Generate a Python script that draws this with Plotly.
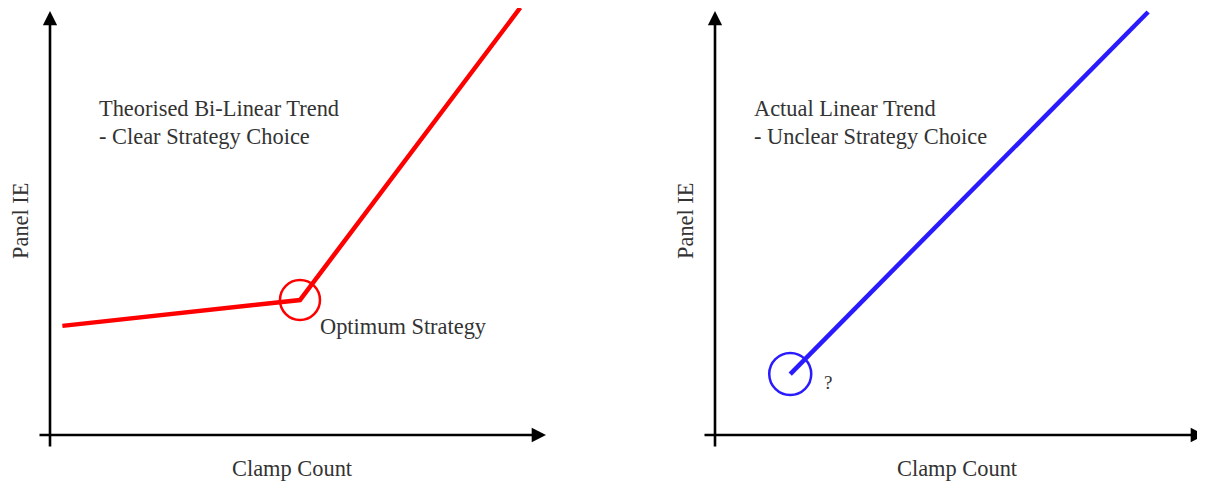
import plotly.graph_objects as go

# ---- data (abstract units: Clamp Count vs Panel IE) ----
bilinear_x = [0.25, 5.05, 9.5]
bilinear_y = [2.58, 3.19, 10.1]
optimum_x = [5.05]
optimum_y = [3.19]

linear_x = [1.52, 8.75]
linear_y = [1.44, 10.0]
start_x = [1.52]
start_y = [1.44]

x_label = "Clamp Count"
y_label = "Panel IE"
left_title = ["Theorised Bi-Linear Trend", "- Clear Strategy Choice"]
right_title = ["Actual Linear Trend", "- Unclear Strategy Choice"]
optimum_label = "Optimum Strategy"
unknown_label = "?"

# ---- layout geometry (screen pixels; page body adds an 8px offset) ----
OFF = 8
W, H = 1205 - OFF, 482 - OFF
PXU_X, PXU_Y = 49.5, 42.3          # pixels per data unit
ORIG_L = (50, 435)                 # screen pixels of axis origin
ORIG_R = (715, 435)
SPLIT = W / 2

def xrange_for(origin, d0, d1):
    o = origin[0] - OFF
    return [(d0 - o) / PXU_X, (d1 - o) / PXU_X]

def yrange_for(origin):
    o = origin[1] - OFF
    return [(o - H) / PXU_Y, o / PXU_Y]

def dx(px, origin):
    return (px - origin[0]) / PXU_X

def dy(py, origin):
    return (origin[1] - py) / PXU_Y

FONT = "Liberation Serif, Times New Roman, serif"
TXT = "#333333"
FS = 22.4

fig = go.Figure()
fig.add_trace(go.Scatter(x=bilinear_x, y=bilinear_y, mode="lines",
                         line=dict(color="#ff0000", width=4.5), xaxis="x", yaxis="y",
                         hoverinfo="skip"))
fig.add_trace(go.Scatter(x=optimum_x, y=optimum_y, mode="markers",
                         marker=dict(symbol="circle-open", size=40, color="#ff0000",
                                     line=dict(width=2.5, color="#ff0000")),
                         xaxis="x", yaxis="y", hoverinfo="skip"))
fig.add_trace(go.Scatter(x=linear_x, y=linear_y, mode="lines",
                         line=dict(color="#2a1bff", width=4.5), xaxis="x2", yaxis="y2",
                         hoverinfo="skip"))
fig.add_trace(go.Scatter(x=start_x, y=start_y, mode="markers",
                         marker=dict(symbol="circle-open", size=42, color="#2a1bff",
                                     line=dict(width=2.5, color="#2a1bff")),
                         xaxis="x2", yaxis="y2", hoverinfo="skip"))

hidden = dict(visible=False, showgrid=False, zeroline=False, fixedrange=True)
fig.update_layout(
    width=W, height=H,
    margin=dict(l=0, r=0, t=0, b=0),
    paper_bgcolor="white", plot_bgcolor="white",
    showlegend=False,
    xaxis=dict(domain=[0, 0.5], range=xrange_for(ORIG_L, 0, SPLIT), **hidden),
    yaxis=dict(domain=[0, 1], range=yrange_for(ORIG_L), **hidden),
    xaxis2=dict(domain=[0.5, 1], range=xrange_for(ORIG_R, SPLIT, W), **hidden),
    yaxis2=dict(domain=[0, 1], range=yrange_for(ORIG_R), anchor="x2", **hidden),
)

annotations = []
for origin, xa, ya, xend in [(ORIG_L, "x", "y", 546), (ORIG_R, "x2", "y2", 1205)]:
    # y axis arrow
    annotations.append(dict(x=0, y=dy(11, origin), ax=0, ay=dy(448, origin),
                            xref=xa, yref=ya, axref=xa, ayref=ya, text="",
                            showarrow=True, arrowhead=2, arrowsize=1.1, arrowwidth=2.6,
                            arrowcolor="black"))
    # x axis arrow
    annotations.append(dict(x=dx(xend, origin), y=0, ax=dx(origin[0] - 12, origin), ay=0,
                            xref=xa, yref=ya, axref=xa, ayref=ya, text="",
                            showarrow=True, arrowhead=2, arrowsize=1.1, arrowwidth=2.6,
                            arrowcolor="black"))
    # axis labels
    annotations.append(dict(x=dx(origin[0] + 242, origin), y=dy(468, origin), xref=xa, yref=ya,
                            text=x_label, showarrow=False, xanchor="center", yanchor="middle",
                            font=dict(family=FONT, size=FS, color=TXT)))
    annotations.append(dict(x=dx(origin[0] - 30, origin), y=dy(221, origin), xref=xa, yref=ya,
                            text=y_label, showarrow=False, textangle=-90,
                            xanchor="center", yanchor="middle",
                            font=dict(family=FONT, size=FS, color=TXT)))

for origin, xa, ya, lines, x0 in [(ORIG_L, "x", "y", left_title, 97),
                                   (ORIG_R, "x2", "y2", right_title, 752)]:
    for i, t in enumerate(lines):
        annotations.append(dict(x=dx(x0, origin), y=dy(108 + 28 * i, origin), xref=xa, yref=ya,
                                text=t, showarrow=False, xanchor="left", yanchor="middle",
                                font=dict(family=FONT, size=FS, color=TXT)))

annotations.append(dict(x=dx(318, ORIG_L), y=dy(326, ORIG_L), xref="x", yref="y",
                        text=optimum_label, showarrow=False, xanchor="left", yanchor="middle",
                        font=dict(family=FONT, size=FS, color=TXT)))
annotations.append(dict(x=dx(822, ORIG_R), y=dy(382, ORIG_R), xref="x2", yref="y2",
                        text=unknown_label, showarrow=False, xanchor="left", yanchor="middle",
                        font=dict(family=FONT, size=19, color=TXT)))

fig.update_layout(annotations=annotations)
fig.write_html("out.html")
